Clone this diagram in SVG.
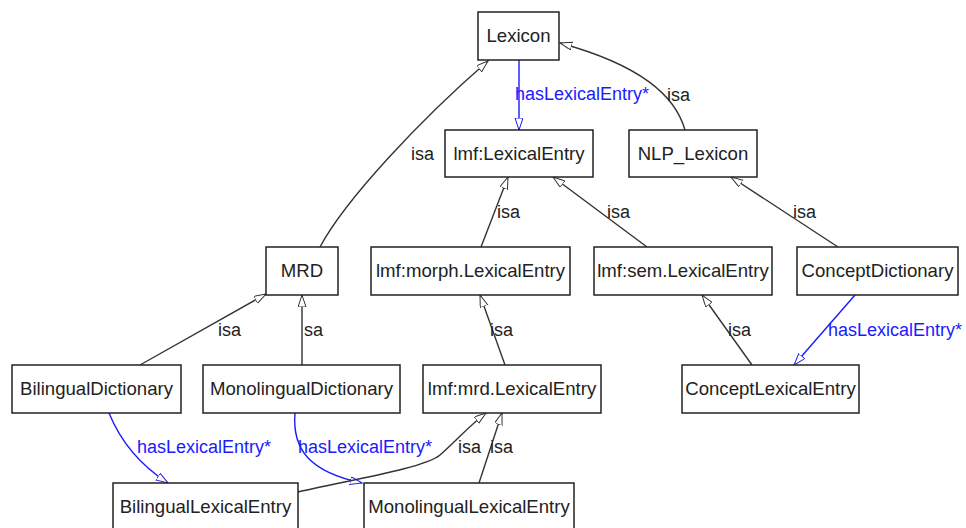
<svg xmlns="http://www.w3.org/2000/svg" width="966" height="528" viewBox="0 0 966 528">
<defs>
<marker id="ag" markerUnits="userSpaceOnUse" markerWidth="16" markerHeight="10" refX="12" refY="4" orient="auto">
<path d="M0,0 L12,4 L0,8 Z" fill="#fff" stroke="#333" stroke-width="1"/>
</marker>
<marker id="ab" markerUnits="userSpaceOnUse" markerWidth="16" markerHeight="10" refX="12" refY="4" orient="auto">
<path d="M0,0 L12,4 L0,8 Z" fill="#fff" stroke="#1a1aff" stroke-width="1"/>
</marker>
</defs>
<style>
.n rect{fill:#fff;stroke:#222;stroke-width:1.5}
.n text{font-family:"Liberation Sans",Arial,sans-serif;font-size:18.6px;fill:#222;text-anchor:middle}
.isa{fill:none;stroke:#333;stroke-width:1.4;marker-end:url(#ag)}
.has{fill:none;stroke:#1a1aff;stroke-width:1.4;marker-end:url(#ab)}
.li{font-family:"Liberation Sans",Arial,sans-serif;font-size:18px;fill:#222}
.lh{font-family:"Liberation Sans",Arial,sans-serif;font-size:18px;fill:#1a1aff}
</style>
<rect width="966" height="528" fill="#fff"/>
<g id="connectors">
<path class="isa" d="M320,247 C345,200 420,120 488,61"/>
<path class="has" d="M519,60 L519,130"/>
<path class="isa" d="M685,130 C675,95 640,65 560,43"/>
<path class="isa" d="M481,247 L508,177"/>
<path class="isa" d="M647,247 L553,177"/>
<path class="isa" d="M838,247 L731,177"/>
<path class="isa" d="M140,365 L266,294"/>
<path class="isa" d="M302,365 L302,295"/>
<path class="isa" d="M505,365 L480,295"/>
<path class="isa" d="M752,365 L702,295"/>
<path class="has" d="M855,295 L794,365"/>
<path class="has" d="M109,413 C120,440 140,465 168,483"/>
<path class="has" d="M295,413 C292,450 310,472 362,483"/>
<path class="isa" d="M298,492 C350,480 425,468 440,455 S470,425 486,413"/>
<path class="isa" d="M479,483 L502,413"/>
<text class="li" x="411" y="160">isa</text>
<text class="lh" x="515" y="100">hasLexicalEntry*</text>
<text class="li" x="667" y="101">isa</text>
<text class="li" x="497" y="218">isa</text>
<text class="li" x="607" y="218">isa</text>
<text class="li" x="793" y="218">isa</text>
<text class="li" x="218" y="336">isa</text>
<text class="li" x="304" y="336">sa</text>
<text class="li" x="490" y="336">isa</text>
<text class="li" x="728" y="336">isa</text>
<text class="lh" x="828" y="336">hasLexicalEntry*</text>
<text class="lh" x="137" y="453">hasLexicalEntry*</text>
<text class="lh" x="298" y="453">hasLexicalEntry*</text>
<text class="li" x="458" y="453">isa</text>
<text class="li" x="490" y="453">isa</text>
</g>
<g id="lexicon" class="n"><rect x="478" y="12" width="81" height="48"/><text x="518.5" y="42">Lexicon</text></g>
<g id="lmf-lexicalentry" class="n"><rect x="445" y="130" width="148" height="47"/><text x="519" y="160">lmf:LexicalEntry</text></g>
<g id="nlp-lexicon" class="n"><rect x="629" y="130" width="128" height="47"/><text x="693" y="160">NLP_Lexicon</text></g>
<g id="mrd" class="n"><rect x="266" y="247" width="72" height="48"/><text x="302" y="277">MRD</text></g>
<g id="lmf-morph" class="n"><rect x="371" y="247" width="199" height="48"/><text x="470.5" y="277">lmf:morph.LexicalEntry</text></g>
<g id="lmf-sem" class="n"><rect x="594" y="247" width="178" height="48"/><text x="683" y="277">lmf:sem.LexicalEntry</text></g>
<g id="conceptdictionary" class="n"><rect x="797" y="247" width="161" height="48"/><text x="877.5" y="277">ConceptDictionary</text></g>
<g id="bilingualdictionary" class="n"><rect x="12" y="365" width="169" height="48"/><text x="96.5" y="395">BilingualDictionary</text></g>
<g id="monolingualdictionary" class="n"><rect x="203" y="365" width="197" height="48"/><text x="301.5" y="395">MonolingualDictionary</text></g>
<g id="lmf-mrd" class="n"><rect x="423" y="365" width="178" height="48"/><text x="512" y="395">lmf:mrd.LexicalEntry</text></g>
<g id="conceptlexicalentry" class="n"><rect x="682" y="365" width="177" height="48"/><text x="770.5" y="395">ConceptLexicalEntry</text></g>
<g id="bilinguallexicalentry" class="n"><rect x="113" y="483" width="185" height="48"/><text x="205.5" y="513">BilingualLexicalEntry</text></g>
<g id="monolinguallexicalentry" class="n"><rect x="364" y="483" width="210" height="48"/><text x="469" y="513">MonolingualLexicalEntry</text></g>
</svg>
